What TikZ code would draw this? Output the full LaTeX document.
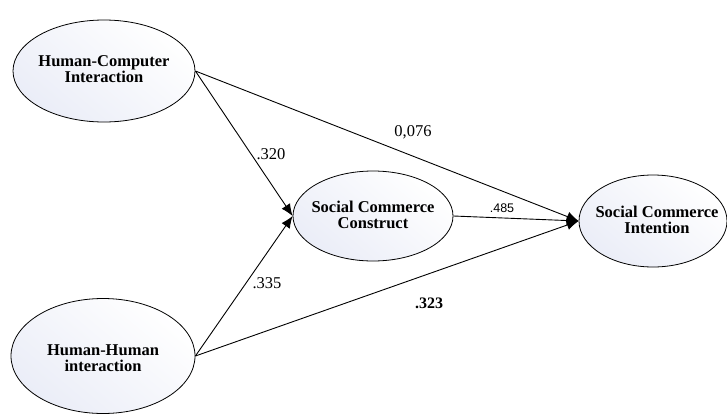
\documentclass[tikz,border=0pt]{standalone}
\usepackage{fontspec}
\setmainfont{Liberation Serif}
\newfontfamily\labsans{Liberation Sans}
\usetikzlibrary{shapes.geometric,arrows.meta}
\definecolor{ellfill}{rgb}{0.92,0.93,0.97}
\tikzset{
  construct/.style={ellipse, draw=black, line width=0.8pt, inner sep=0pt,
    top color=white, bottom color=ellfill, shading angle=-40},
  ctext/.style={align=center, inner sep=0pt, font=\fontsize{16.5}{16.5}\selectfont\bfseries},
  path/.style={draw=black, line width=0.9pt, -{Latex[length=12pt,width=10pt]}},
  coef/.style={font=\fontsize{16.5}{18}\selectfont, inner sep=0pt}
}
\begin{document}
\begin{tikzpicture}[x=1pt,y=-1pt]
\useasboundingbox (0,0) rectangle (727,415);
\node[construct, minimum width=182pt, minimum height=102pt] (hci) at (104,71) {};
\node[ctext] (hcit) at (104,69) {Human-Computer\\Interaction};
\node[construct, minimum width=184pt, minimum height=115pt] (hhi) at (103,356) {};
\node[ctext] (hhit) at (103,358) {Human-Human\\interaction};
\node[construct, minimum width=160pt, minimum height=90pt] (scc) at (373,216) {};
\node[ctext] (scct) at (373,215) {Social Commerce\\Construct};
\node[construct, minimum width=148pt, minimum height=92pt] (sci) at (653,221) {};
\node[ctext] (scit) at (657,220) {Social Commerce\\Intention};
\draw[path] (hci.east) -- (scc.west);
\draw[path] (hhi.east) -- (scc.west);
\draw[path] (hci.east) -- (sci.west);
\draw[path] (scc.east) -- (sci.west);
\draw[path] (hhi.east) -- (sci.west);
\node[coef] (l1) at (413,132) {0,076};
\node[coef] (l2) at (271,154) {.320};
\node[coef, font=\labsans\fontsize{12.5}{14}\selectfont] (l3) at (502,208) {.485};
\node[coef] (l4) at (267,283) {.335};
\node[coef, font=\fontsize{16}{18}\selectfont\bfseries] (l5) at (429,303) {.323};
\end{tikzpicture}
\end{document}
